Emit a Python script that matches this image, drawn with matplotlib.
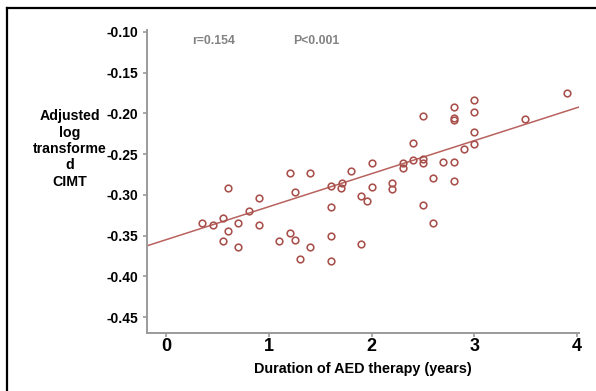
import matplotlib
matplotlib.use("Agg")
import matplotlib.pyplot as plt
from matplotlib.lines import Line2D
import numpy as np

# Data (duration in years, adjusted log CIMT)
duration = [0.606, 1.206, 1.401, 1.800, 2.001, 1.709, 1.699, 1.602, 1.252, 2.001,
            2.201, 2.201, 1.897, 1.952, 0.902, 1.602, 0.804, 0.557, 0.353, 0.454,
            0.703, 0.902, 0.606, 0.557, 0.703, 1.206, 1.252, 1.102, 1.602, 1.401,
            1.897, 1.304, 1.602,
            3.898, 3.495, 2.996, 2.996, 2.802, 2.802, 2.802, 2.503, 2.996, 2.996,
            2.899, 2.400, 2.400, 2.302, 2.302, 2.503, 2.503, 2.697, 2.802, 2.600,
            2.802, 2.503, 2.600]
cimt = [-0.291, -0.273, -0.2735, -0.2707, -0.261, -0.285, -0.291, -0.2895, -0.296, -0.290,
        -0.2858, -0.293, -0.301, -0.307, -0.304, -0.3145, -0.3197, -0.328, -0.335, -0.337,
        -0.335, -0.337, -0.3446, -0.356, -0.364, -0.347, -0.355, -0.357, -0.351, -0.3635,
        -0.360, -0.379, -0.381,
        -0.1747, -0.207, -0.1833, -0.1984, -0.192, -0.206, -0.2086, -0.203, -0.2225, -0.2376,
        -0.2437, -0.237, -0.257, -0.261, -0.267, -0.2557, -0.2613, -0.2597, -0.2597, -0.2797,
        -0.2826, -0.312, -0.335]

fit_intercept = -0.355
fit_slope = 0.0405

x_ticks = [0, 1, 2, 3, 4]
y_ticks = [-0.10, -0.15, -0.20, -0.25, -0.30, -0.35, -0.40, -0.45]
y_tick_labels = ["-0.10", "-0.15", "-0.20", "-0.25", "-0.30", "-0.35", "-0.40", "-0.45"]
x_label = "Duration of AED therapy (years)"
y_label = "Adjusted\nlog\ntransforme\nd\nCIMT"
annot_r = "r=0.154"
annot_p = "P<0.001"

plt.rcParams['font.family'] = ['Liberation Sans', 'DejaVu Sans']

W, H = 596, 391
fig = plt.figure(figsize=(W / 100, H / 100), dpi=100)
fig.patch.set_facecolor("white")

ax = fig.add_axes([146.5 / W, 1 - 332.7 / H, 432.8 / W, 302.6 / H])
xlim = (-0.19, 4.02)
ax.set_xlim(*xlim)
ax.set_ylim(-0.469, -0.098)

point_color = "#a8504c"
line_color = "#b8625e"

ax.plot(duration, cimt, linestyle="none", marker="o", markersize=4.8,
        markerfacecolor="none", markeredgecolor=point_color, markeredgewidth=1.15,
        zorder=3)

fx = np.array(xlim)
ax.plot(fx, fit_intercept + fit_slope * fx, color=line_color, linewidth=1.1, zorder=2)

for s in ["top", "right"]:
    ax.spines[s].set_visible(False)
for s in ["left", "bottom"]:
    ax.spines[s].set_color("#9a9a9a")
    ax.spines[s].set_linewidth(1.4)

ax.set_xticks(x_ticks)
ax.set_xticklabels([str(t) for t in x_ticks], fontsize=13, fontweight="bold")
ax.set_yticks(y_ticks)
ax.set_yticklabels(y_tick_labels, fontsize=10, fontweight="bold")
ax.tick_params(axis="both", color="#9a9a9a", length=3, width=1.2)
ax.tick_params(axis="x", pad=1)
ax.tick_params(axis="y", pad=3)

ax.set_xlabel(x_label, fontsize=10.4, fontweight="bold", labelpad=5)

fig.text(70 / W, 1 - 149 / H, y_label, ha="center", va="center",
         fontsize=10.2, fontweight="bold", linespacing=1.22)

fig.text(191.7 / W, 1 - 40.7 / H, annot_r, ha="left", va="center",
         fontsize=8.8, fontweight="bold", color="#828282")
fig.text(292.7 / W, 1 - 40.7 / H, annot_p, ha="left", va="center",
         fontsize=8.8, fontweight="bold", color="#828282")

# outer frame (cropped on right and bottom in the reference)
fig.add_artist(Line2D([7.5 / W, 1.0], [1 - 7.5 / H, 1 - 7.5 / H],
                      transform=fig.transFigure, color="black", linewidth=1.6))
fig.add_artist(Line2D([7.5 / W, 7.5 / W], [0.0, 1 - 7.5 / H],
                      transform=fig.transFigure, color="black", linewidth=1.6))

fig.savefig("out.png", dpi=100, facecolor="white")
